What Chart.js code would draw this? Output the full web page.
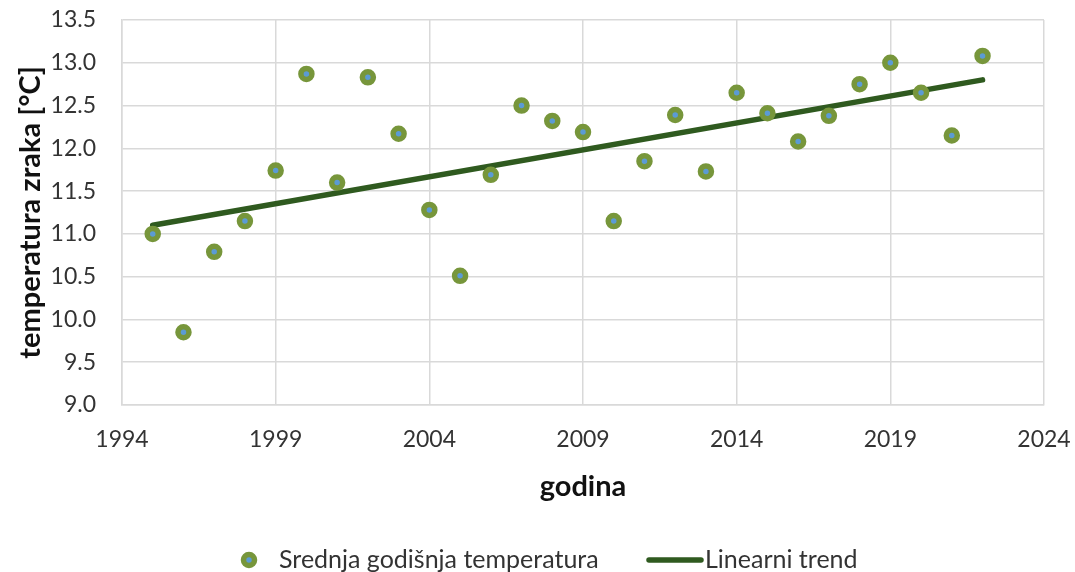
<!DOCTYPE html>
<html>
<head>
<meta charset="utf-8">
<script src="https://cdn.jsdelivr.net/npm/chart.js@4/dist/chart.umd.min.js"></script>
<style>
html,body{margin:0;padding:0;background:#fff;}
#wrap{width:1075px;height:572px;position:relative;}
</style>
</head>
<body>
<div id="wrap"><canvas id="c" width="1075" height="572"></canvas></div>
<script>
const years = [1995,1996,1997,1998,1999,2000,2001,2002,2003,2004,2005,2006,2007,2008,2009,2010,2011,2012,2013,2014,2015,2016,2017,2018,2019,2020,2021,2022];
const temps = [11.00,9.85,10.79,11.15,11.74,12.87,11.60,12.83,12.17,11.28,10.51,11.69,12.50,12.32,12.19,11.15,11.85,12.39,11.73,12.65,12.41,12.08,12.38,12.75,13.00,12.65,12.15,13.08];
const trendYears = [1995,2022];
const trendValues = [11.10,12.80];
const xTicks = [1994,1999,2004,2009,2014,2019,2024];
const yTicks = [9.0,9.5,10.0,10.5,11.0,11.5,12.0,12.5,13.0,13.5];
const seriesNames = ['Srednja godišnja temperatura','Linearni trend'];

const FONT = 'Lato, "Open Sans", sans-serif';
const GREEN = '#77963b';
const BLUE = '#5b9bd5';
const DARK = '#2f5a1f';
const TXT = '#333333';

const legendPlugin = {
  id: 'customLegend',
  afterDraw(chart) {
    const ctx = chart.ctx;
    ctx.save();
    const y = 560;
    ctx.font = '25px ' + FONT;
    ctx.textBaseline = 'middle';
    ctx.beginPath();
    ctx.arc(249, y, 5.5, 0, Math.PI*2);
    ctx.fillStyle = BLUE; ctx.fill();
    ctx.lineWidth = 5.5; ctx.strokeStyle = GREEN; ctx.stroke();
    ctx.fillStyle = TXT;
    ctx.textAlign = 'left';
    ctx.fillText(seriesNames[0], 279, y);
    ctx.beginPath();
    ctx.moveTo(649, y); ctx.lineTo(701, y);
    ctx.lineWidth = 5.5; ctx.lineCap = 'round'; ctx.strokeStyle = DARK; ctx.stroke();
    ctx.fillText(seriesNames[1], 705, y);
    ctx.restore();
  }
};

new Chart(document.getElementById('c'), {
  type: 'scatter',
  data: {
    datasets: [
      {
        label: seriesNames[0],
        data: years.map((x,i)=>({x:x, y:temps[i]})),
        backgroundColor: BLUE,
        borderColor: GREEN,
        borderWidth: 5.5,
        pointRadius: 5.5,
        pointHoverRadius: 5.5,
        order: 1
      },
      {
        label: seriesNames[1],
        type: 'line',
        data: trendYears.map((x,i)=>({x:x, y:trendValues[i]})),
        borderColor: DARK,
        borderWidth: 5.5,
        borderCapStyle: 'round',
        pointRadius: 0,
        fill: false,
        order: 2
      }
    ]
  },
  options: {
    responsive: false,
    animation: false,
    events: [],
    layout: { padding: { left: 0, top: 20, right: 31, bottom: 0 } },
    plugins: {
      legend: { display: false },
      tooltip: { enabled: false }
    },
    scales: {
      x: {
        type: 'linear',
        min: 1994, max: 2024,
        afterBuildTicks: (s) => { s.ticks = xTicks.map(v=>({value:v})); },
        ticks: { font: { family: FONT, size: 23 }, color: TXT, padding: 21, maxRotation: 0, callback: v => String(v) },
        grid: { color: '#d9d9d9', lineWidth: 1.5, drawTicks: false },
        border: { color: '#d9d9d9', width: 1.5 },
        title: { display: true, text: 'godina', font: { family: FONT, size: 29, weight: 'bold' }, color: '#111', padding: { top: 0, bottom: 68 } },
        afterFit: (s) => { s.height = 167; s.paddingLeft = 0; s.paddingRight = 0; s.paddingTop = 0; s.paddingBottom = 0; }
      },
      y: {
        min: 9, max: 13.5,
        afterBuildTicks: (s) => { s.ticks = yTicks.map(v=>({value:v})); },
        ticks: { font: { family: FONT, size: 23 }, color: TXT, padding: 26, callback: v => v.toFixed(1) },
        grid: { color: '#d9d9d9', lineWidth: 1.5, drawTicks: false },
        border: { color: '#d9d9d9', width: 1.5 },
        title: { display: true, text: 'temperatura zraka [°C]', font: { family: FONT, size: 29, weight: 'bold' }, color: '#111', padding: { top: 13, bottom: 0 } },
        afterFit: (s) => { s.width = 122; s.paddingLeft = 0; s.paddingRight = 0; s.paddingTop = 0; s.paddingBottom = 0; }
      }
    }
  },
  plugins: [legendPlugin]
});
</script>
</body>
</html>
